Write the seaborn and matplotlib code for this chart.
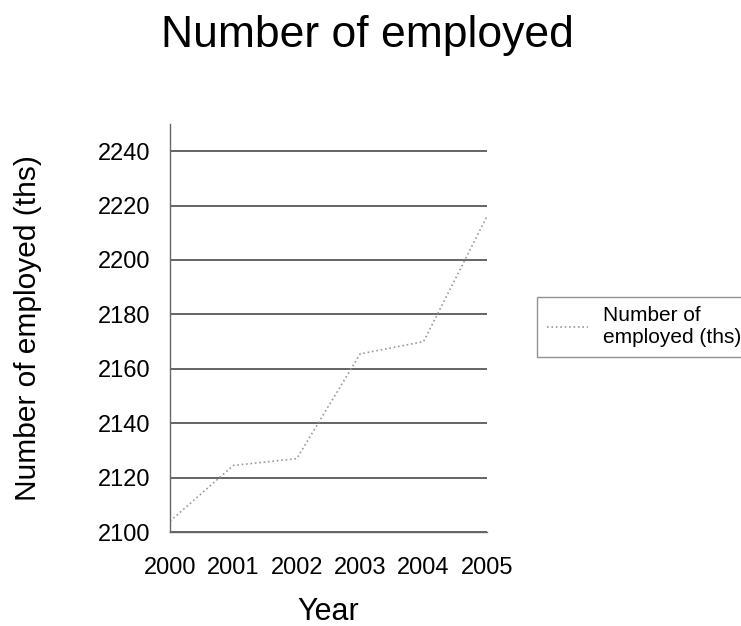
import pandas as pd
import matplotlib.pyplot as plt
import seaborn as sns

# Data
years = [2000, 2001, 2002, 2003, 2004, 2005]
employed = [2104, 2124.5, 2127, 2165.5, 2170, 2216]
y_ticks = [2100, 2120, 2140, 2160, 2180, 2200, 2220, 2240]

df = pd.DataFrame({"Year": years, "Number of employed (ths)": employed})

sns.set_style("white")
plt.rcParams["font.family"] = ["Liberation Sans", "DejaVu Sans"]
plt.rcParams["text.color"] = "black"
plt.rcParams["axes.labelcolor"] = "black"
plt.rcParams["xtick.color"] = "black"
plt.rcParams["ytick.color"] = "black"

fig = plt.figure(figsize=(7.41, 6.26), dpi=100)
ax = fig.add_axes([0.2294, 0.150, 0.4277, 0.652])

sns.lineplot(data=df, x="Year", y="Number of employed (ths)", ax=ax,
             color="#9a9a9a", linestyle=":", linewidth=1.2,
             label="Number of\nemployed (ths)", legend=False)

ax.set_xlim(2000, 2005)
ax.set_ylim(2100, 2250)
ax.set_xticks(years)
ax.set_xticklabels([str(y) for y in years])
ax.set_yticks(y_ticks)
ax.yaxis.grid(True, color="#3a3a3a", linewidth=1.1)
ax.set_axisbelow(True)

for side in ["top", "right"]:
    ax.spines[side].set_visible(False)
for side in ["left", "bottom"]:
    ax.spines[side].set_color("#666666")
    ax.spines[side].set_linewidth(1.0)

ax.tick_params(axis="both", which="major", direction="out", length=8,
               width=1, color="#666666", labelsize=17)
ax.tick_params(axis="x", pad=10)
ax.tick_params(axis="y", pad=6)

ax.set_xlabel("Year", fontsize=22)
ax.set_ylabel("Number of employed (ths)", fontsize=21.5)
ax.xaxis.set_label_coords(0.5, -0.159)
ax.yaxis.set_label_coords(-0.404, 0.5)

fig.text(0.496, 0.925, "Number of employed", ha="center", va="baseline", fontsize=32)

handles, labels = ax.get_legend_handles_labels()
fig.legend(handles, labels, loc="upper left", bbox_to_anchor=(0.725, 0.5256),
           fontsize=15, frameon=True, fancybox=False, edgecolor="#777777",
           handlelength=2.0, handletextpad=0.7, borderaxespad=0, borderpad=0.45)

fig.savefig("out.png", dpi=100)
